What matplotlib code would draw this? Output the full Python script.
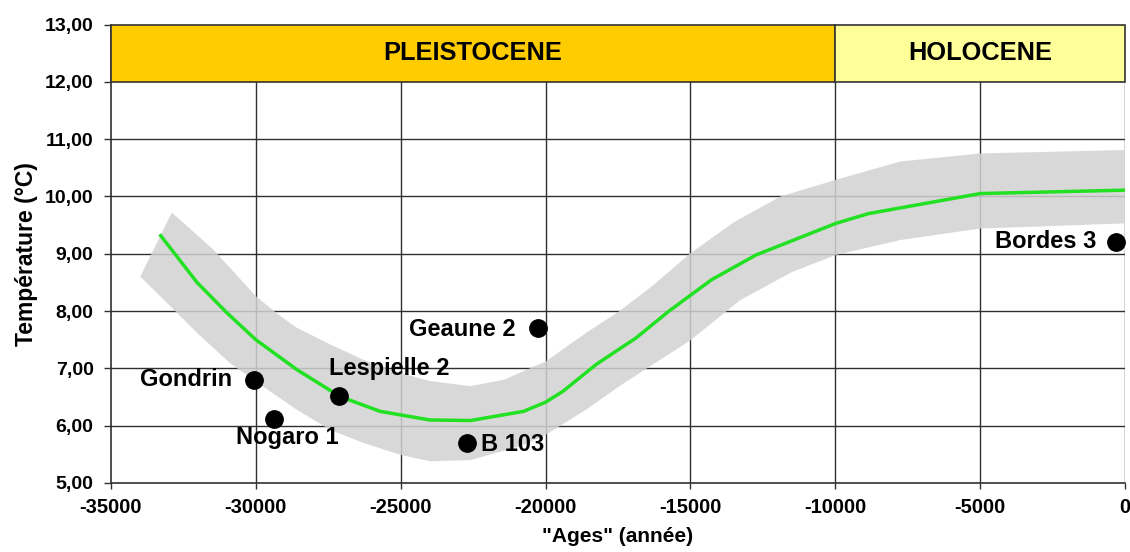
import matplotlib
matplotlib.use("Agg")
import matplotlib.pyplot as plt
from matplotlib.patches import Rectangle, Polygon
from matplotlib.ticker import FuncFormatter

plt.rcParams['font.family'] = ['Liberation Sans', 'DejaVu Sans']
plt.rcParams['font.weight'] = 'bold'

# Mean temperature curve (age in years, °C)
curve_age = [-33320, -32030, -31000, -30000, -28590, -27100, -25710, -24000,
             -22590, -20760, -20000, -19400, -18250, -16880, -15740, -14260,
             -12730, -9980, -8860, -5000, 0]
curve_temp = [9.34, 8.50, 7.97, 7.50, 6.98, 6.51, 6.25, 6.10,
              6.09, 6.25, 6.41, 6.60, 7.07, 7.53, 8.00, 8.55,
              8.98, 9.53, 9.70, 10.05, 10.11]

# Uncertainty envelope
upper_age = [-32900, -31460, -30000, -29200, -28590, -27440, -26290, -25000, -24000,
             -22590, -21450, -20000, -18600, -17450, -16310, -15000, -13500,
             -11890, -9980, -7750, -5000, 0]
upper_temp = [9.72, 9.07, 8.26, 7.93, 7.71, 7.42, 7.15, 6.92, 6.78,
              6.69, 6.80, 7.12, 7.62, 8.00, 8.44, 9.01, 9.55,
              10.00, 10.29, 10.61, 10.75, 10.81]
lower_age = [-33990, -33180, -32030, -30890, -30000, -28590, -27440, -26290,
             -25000, -24000, -22590, -20880, -20000, -18600, -17450, -15000,
             -13280, -11500, -9970, -7750, -5000, 0]
lower_temp = [8.60, 8.20, 7.62, 7.09, 6.77, 6.28, 5.93, 5.70,
              5.49, 5.38, 5.40, 5.64, 5.84, 6.28, 6.69, 7.49,
              8.19, 8.68, 8.98, 9.24, 9.44, 9.53]

# Sites
site_names = ["Gondrin", "Nogaro 1", "Lespielle 2", "Geaune 2", "B 103", "Bordes 3"]
site_age = [-30046, -29368, -27115, -20251, -22705, -325]
site_temp = [6.80, 6.12, 6.51, 7.71, 5.70, 9.21]

# Epochs
epoch_names = ["PLEISTOCENE", "HOLOCENE"]
epoch_start = [-35000, -10000]
epoch_end = [-10000, 0]
epoch_colors = ["#FFCC00", "#FFFF99"]

x_ticks = [-35000, -30000, -25000, -20000, -15000, -10000, -5000, 0]
y_ticks = [5, 6, 7, 8, 9, 10, 11, 12, 13]

fig = plt.figure(figsize=(11.3, 5.52), dpi=100)
ax = fig.add_axes([0.0982, 0.125, 0.8974, 0.8306])
ax.set_xlim(-35000, 0)
ax.set_ylim(5, 13)

grid_color = "#303030"
for y in y_ticks[1:-2]:
    ax.plot([-35000, 0], [y, y], color=grid_color, lw=1.0, zorder=1)
for x in x_ticks[1:]:
    ax.plot([x, x], [5, 12], color=grid_color, lw=1.0, zorder=1)

# Envelope
env = list(zip(upper_age, upper_temp)) + list(zip(lower_age[::-1], lower_temp[::-1]))
ax.add_patch(Polygon(env, closed=True, facecolor="#D2D2D2", edgecolor="none",
                     alpha=0.85, zorder=2))

ax.plot(curve_age, curve_temp, color="#22E022", lw=2.5, zorder=3,
        solid_capstyle="butt")

ax.plot(site_age, site_temp, "o", color="black", markersize=12.5, zorder=4)

offsets = {
    "Gondrin": ((-22, 0), "right", "center"),
    "Nogaro 1": ((13, -19), "center", "center"),
    "Lespielle 2": ((50, 28), "center", "center"),
    "Geaune 2": ((-23, -2), "right", "center"),
    "B 103": ((14, -2), "left", "center"),
    "Bordes 3": ((-19, 0), "right", "center"),
}
for name, a, t in zip(site_names, site_age, site_temp):
    off, ha, va = offsets[name]
    ax.annotate(name, (a, t), xytext=off, textcoords="offset pixels",
                ha=ha, va=va, fontsize=17, fontweight="bold", zorder=5)

# Epoch banner
for name, x0, x1, c in zip(epoch_names, epoch_start, epoch_end, epoch_colors):
    ax.add_patch(Rectangle((x0, 12), x1 - x0, 1, facecolor=c,
                           edgecolor="#333333", lw=1.2, zorder=6, clip_on=False))
    ax.text((x0 + x1) / 2, 12.5, name, ha="center", va="center",
            fontsize=18.3, fontweight="bold", zorder=7)

ax.set_xticks(x_ticks)
ax.set_yticks(y_ticks)
ax.yaxis.set_major_formatter(FuncFormatter(lambda v, p: f"{v:.2f}".replace(".", ",")))
ax.xaxis.set_major_formatter(FuncFormatter(lambda v, p: f"{int(v)}"))
ax.tick_params(axis="x", length=4.5, width=1, pad=6.5, labelsize=14.5, color=grid_color)
ax.tick_params(axis="y", length=5, width=1, pad=7.5, labelsize=14, color=grid_color)
for lab in ax.get_xticklabels() + ax.get_yticklabels():
    lab.set_fontweight("bold")

for s in ["top", "right"]:
    ax.spines[s].set_visible(False)
for s in ["left", "bottom"]:
    ax.spines[s].set_color(grid_color)
    ax.spines[s].set_linewidth(1.2)

ax.set_xlabel("\"Ages\" (année)", fontsize=15, fontweight="bold")
ax.set_ylabel("Température (°C)", fontsize=16.5, fontweight="bold")
ax.xaxis.set_label_coords(0.5, -0.097)
ax.yaxis.set_label_coords(-0.072, 0.5)

fig.savefig("out.png", dpi=100)
